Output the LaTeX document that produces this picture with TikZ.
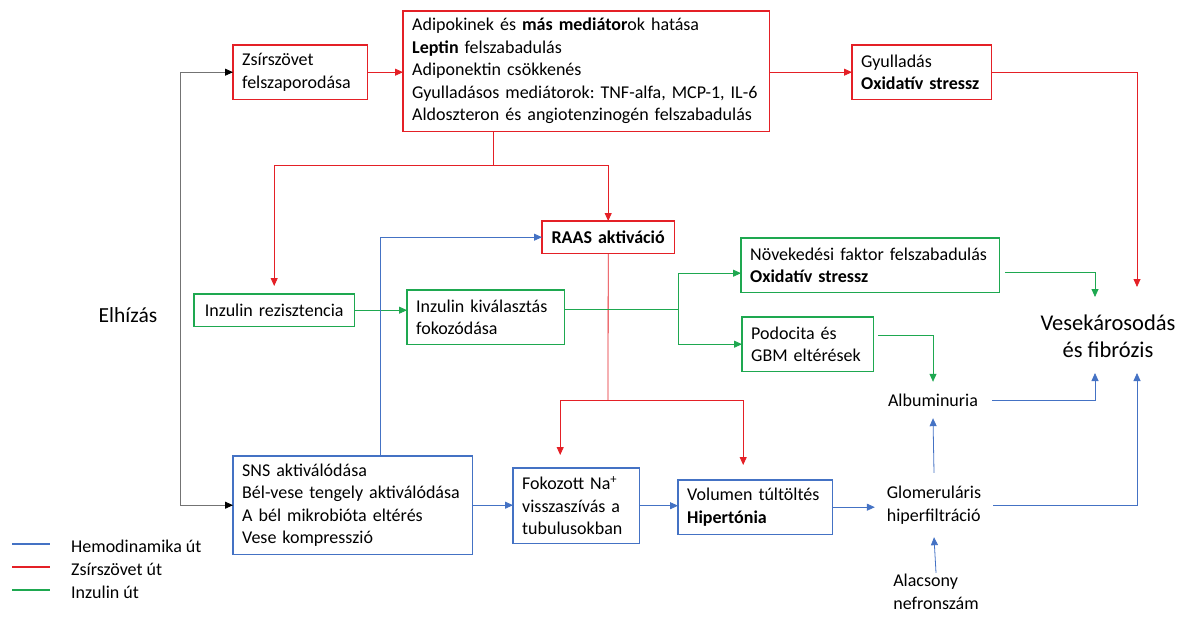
\documentclass[tikz,border=0pt]{standalone}
\usepackage{fontspec}
\setmainfont{Carlito}
\usetikzlibrary{arrows.meta}
\definecolor{redc}{RGB}{228,32,38}
\definecolor{greenc}{RGB}{30,168,80}
\definecolor{bluec}{RGB}{68,114,196}
\frenchspacing
\begin{document}
\begin{tikzpicture}[x=1pt,y=-1pt,
  box/.style={fill=white, anchor=north west, align=left,
    inner xsep=9pt, inner ysep=0pt, font=\fontsize{18}{22.5}\selectfont},
  frame/.style={line width=1.3pt},
  txt/.style={inner sep=0pt, align=left, font=\fontsize{18}{22.5}\selectfont},
  conn/.style={line width=0.8pt},
  rl/.style={conn, color=redc},
  gl/.style={conn, color=greenc},
  bl/.style={conn, color=bluec},
  kl/.style={conn, color=black!55},
  tip/.style={-{Triangle[length=8pt,width=7pt]}},
  ktip/.style={-{Triangle[length=8pt,width=7pt,black]}},
  legtxt/.style={anchor=west, inner sep=0pt, font=\fontsize{18}{22.5}\selectfont}]
\useasboundingbox (0,0) rectangle (1188,618);

% adipose tissue path boxes
\node[box, minimum width=134pt, text width=116pt, minimum height=54pt] (zsir) at (233,45)
  {Zsírszövet\\felszaporodása};
\node[box, minimum width=366pt, text width=348pt, minimum height=120pt] (adipo) at (403,11)
  {Adipokinek és \textbf{más mediátor}ok hatása\\\textbf{Leptin} felszabadulás\\Adiponektin csökkenés\\\mbox{Gyulladásos mediátorok: TNF-alfa, MCP-1, IL-6}\\\mbox{Aldoszteron és angiotenzinogén felszabadulás}};
\node[box, minimum width=139pt, text width=121pt, minimum height=54pt] (gyull) at (852,45)
  {Gyulladás\\\textbf{Oxidatív stressz}};
\node[box, minimum width=132pt, text width=114pt, minimum height=32pt, align=center,
  font=\fontsize{18}{22.5}\selectfont\bfseries] (raas) at (542,221) {RAAS aktiváció};

% insulin path boxes
\node[box, minimum width=160pt, text width=142pt, minimum height=32pt, align=center] (inzrez) at (194,294)
  {Inzulin rezisztencia};
\node[box, minimum width=157pt, text width=139pt, minimum height=54pt] (inzkiv) at (407,290)
  {Inzulin kiválasztás\\fokozódása};
\node[box, minimum width=258pt, text width=240pt, minimum height=54pt] (novek) at (741,238)
  {Növekedési faktor felszabadulás\\\textbf{Oxidatív stressz}};
\node[box, minimum width=131pt, text width=113pt, minimum height=54pt] (podo) at (742,317)
  {Podocita és\\GBM eltérések};

% haemodynamic path boxes
\node[box, minimum width=239pt, text width=221pt, minimum height=98pt] (sns) at (233,456)
  {SNS aktiválódása\\Bél-vese tengely aktiválódása\\A bél mikrobióta eltérés\\Vese kompresszió};
\node[box, minimum width=126pt, text width=108pt, minimum height=75pt] (na) at (513,468)
  {Fokozott Na\textsuperscript{+}\\visszaszívás a\\tubulusokban};
\node[box, minimum width=154pt, text width=136pt, minimum height=54pt] (vol) at (678,480)
  {Volumen túltöltés\\\textbf{Hipertónia}};

% box outlines, coloured by pathway
\foreach \n in {zsir,adipo,gyull,raas}
  \draw[frame, color=redc] (\n.north west) rectangle (\n.south east);
\foreach \n in {inzrez,inzkiv,novek,podo}
  \draw[frame, color=greenc] (\n.north west) rectangle (\n.south east);
\foreach \n in {sns,na,vol}
  \draw[frame, color=bluec] (\n.north west) rectangle (\n.south east);

% free text nodes
\node[txt, minimum width=118pt, minimum height=36pt] (albu) at (933,400) {Albuminuria};
\node[txt, minimum width=118pt, minimum height=64pt] (glom) at (934,505) {Glomeruláris\\hiperfiltráció};
\node[txt, minimum height=38pt] (alacs) at (936,592) {Alacsony\\nefronszám};
\node[inner sep=0pt, align=center, font=\fontsize{22.5}{27}\selectfont] (vese) at (1108,336)
  {Vesekárosodás\\és fibrózis};
\node[inner sep=0pt, font=\fontsize{21.5}{27}\selectfont] (elhiz) at (128,315) {Elhízás};

% inputs of the kidney damage node
\coordinate (vR) at (1137,287);
\coordinate (vG) at (1095,297);
\coordinate (vB1) at (1095,373);
\coordinate (vB2) at (1137,373);

% obesity branches
\coordinate (ksplit) at (180,290);
\draw[kl, ktip] (ksplit) |- (zsir.west);
\draw[kl, ktip] (ksplit) |- (sns.west);

% adipose tissue connectors
\draw[rl, tip] (zsir.east) -- (zsir.east -| adipo.west);
\draw[rl, tip] (gyull.west -| adipo.east) -- (gyull.west);
\draw[rl, tip] (gyull.east) -| (vR);
\coordinate (rs) at (493,165);
\draw[rl] (adipo.south -| rs) -- (rs);
\draw[rl, tip] (rs) -| ([yshift=8pt]inzrez.north);
\draw[rl, tip] (rs) -| (raas.north);
\coordinate (rb) at (608,400);
\draw[rl] (raas.south) -- (rb);
\draw[rl, tip] (rb) -| ([xshift=-16pt,yshift=13pt]na.north);
\draw[rl, tip] (rb) -| ([xshift=-12pt,yshift=15pt]vol.north);

% insulin connectors
\draw[gl, tip] (inzrez.east) -- (inzrez.east -| inzkiv.west);
\coordinate (gs) at (678,309);
\draw[gl] (inzkiv.east |- gs) -- (gs);
\draw[gl, tip] (gs) |- ([yshift=-8pt]novek.west);
\draw[gl, tip] (gs) |- (podo.west);
\draw[gl, tip] ([xshift=6pt,yshift=-7pt]novek.east) -| (vG);
\draw[gl, tip] ([xshift=5pt,yshift=9pt]podo.east) -| (albu.north);

% haemodynamic connectors
\draw[bl, tip] ([xshift=27.5pt]sns.north) |- (raas.west);
\draw[bl, tip] (sns.east) -- (sns.east -| na.west);
\draw[bl, tip] (na.east) -- (na.east -| vol.west);
\draw[bl, tip] (vol.east) -- (vol.east -| glom.west);
\draw[bl, tip] (glom.north) -- (albu.south);
\draw[bl, tip] (alacs.north) -- (glom.south);
\draw[bl, tip] (albu.east) -| (vB1);
\draw[bl, tip] (glom.east) -| (vB2);

% legend: short colour bars with their captions
\node[legtxt] (lg1) at (71,546) {Hemodinamika út};
\node[legtxt] (lg2) at (71,569) {Zsírszövet út};
\node[legtxt] (lg3) at (71,592) {Inzulin út};
\fill[bluec] ([xshift=-59pt,yshift=1.4pt]lg1.west) rectangle ([xshift=-21pt,yshift=2.6pt]lg1.west);
\fill[redc] ([xshift=-59pt,yshift=1.4pt]lg2.west) rectangle ([xshift=-21pt,yshift=2.6pt]lg2.west);
\fill[greenc] ([xshift=-59pt,yshift=1.4pt]lg3.west) rectangle ([xshift=-21pt,yshift=2.6pt]lg3.west);
\end{tikzpicture}
\end{document}
